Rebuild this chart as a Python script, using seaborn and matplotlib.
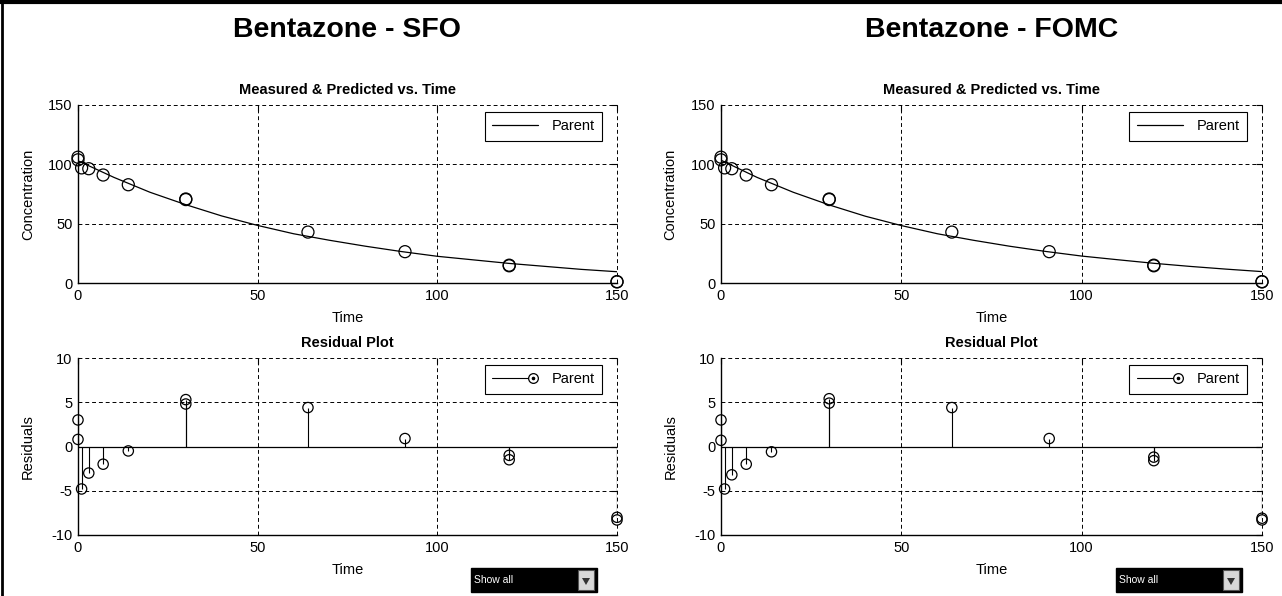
import matplotlib
matplotlib.use("Agg")
import matplotlib.pyplot as plt
import seaborn as sns
from matplotlib.lines import Line2D
from matplotlib.patches import Rectangle, Polygon
from matplotlib.legend_handler import HandlerBase

# ---- measured parent residues (days after application) ----
time_obs = [0, 0, 1, 3, 7, 14, 30, 30, 64, 91, 120, 120, 150, 150]
conc_obs = [106.0, 103.8, 97.0, 96.3, 91.0, 82.8, 70.8, 70.3, 42.9, 26.4, 15.0, 14.5, 1.2, 0.9]

# ---- fitted model curves ----
time_fit = [0, 10, 20, 30, 40, 50, 60, 70, 80, 90, 100, 110, 120, 130, 140, 150]
sfo_fit = [103.0, 89.0, 76.5, 66.0, 56.5, 48.5, 41.5, 36.0, 31.0, 26.5, 22.5, 19.5, 16.5, 14.0, 11.5, 9.5]
fomc_fit = [103.5, 89.0, 76.5, 65.8, 56.3, 48.4, 41.5, 36.0, 31.0, 26.6, 22.7, 19.6, 16.6, 14.0, 11.7, 9.6]

# ---- residuals (measured - predicted) ----
res_sfo = [3.0, 0.8, -4.8, -3.0, -2.0, -0.5, 5.3, 4.8, 4.4, 0.9, -1.0, -1.5, -8.0, -8.3]
res_fomc = [3.0, 0.7, -4.8, -3.2, -2.0, -0.6, 5.4, 4.9, 4.4, 0.9, -1.2, -1.6, -8.1, -8.3]

model_titles = ["Bentazone - SFO", "Bentazone - FOMC"]
x_ticks = [0, 50, 100, 150]
conc_ticks = [0, 50, 100, 150]
res_ticks = [-10, -5, 0, 5, 10]
series_name = "Parent"

sns.set_theme(style="white")
plt.rcParams["font.family"] = ["Liberation Sans", "DejaVu Sans"]
plt.rcParams["axes.unicode_minus"] = False
for key in ("text.color", "axes.labelcolor", "xtick.color", "ytick.color"):
    plt.rcParams[key] = "black"

fig = plt.figure(figsize=(12.82, 5.96), dpi=100)
W, H = 1282, 596


def px_axes(x0, x1, y_top, y_bot):
    return fig.add_axes([x0 / W, 1 - y_bot / H, (x1 - x0) / W, (y_bot - y_top) / H])


class HandlerStem(HandlerBase):
    """Stem legend entry: a line ending in a dotted open circle."""

    def create_artists(self, legend, orig_handle, xdescent, ydescent, width,
                       height, fontsize, trans):
        y = height / 2 - ydescent
        xe = width - xdescent - 4
        line = Line2D([-xdescent, xe], [y, y], color="black", linewidth=0.8)
        ring = Line2D([xe], [y], marker="o", markersize=7,
                      markerfacecolor="white", markeredgecolor="black",
                      markeredgewidth=0.9, linestyle="none")
        dot = Line2D([xe], [y], marker="o", markersize=1.6,
                     markerfacecolor="black", markeredgecolor="black",
                     linestyle="none")
        for a in (line, ring, dot):
            a.set_transform(trans)
        return [line, ring, dot]


def style_axes(ax, yticks, ylim):
    ax.set_xlim(0, 150)
    ax.set_ylim(*ylim)
    ax.set_xticks(x_ticks)
    ax.set_yticks(yticks)
    ax.set_facecolor("white")
    ax.grid(True, color="black", linestyle=(0, (4, 3)), linewidth=0.7)
    for gl in ax.get_xgridlines() + ax.get_ygridlines():
        gl.set_clip_on(False)
    ax.tick_params(direction="in", length=4, width=0.8, top=True, right=True,
                   labelsize=10.5, pad=4, colors="black")
    for side in ("left", "bottom"):
        ax.spines[side].set_color("black")
        ax.spines[side].set_linewidth(1.0)
    for side in ("top", "right"):
        ax.spines[side].set_visible(False)


def add_legend(ax, handle, handler_map=None):
    w_px = ax.bbox.width
    h_px = ax.bbox.height
    leg = ax.legend([handle], [series_name], loc="upper right",
                    bbox_to_anchor=(1 - 15 / w_px, 1 - 7 / h_px),
                    borderaxespad=0, frameon=True, fancybox=False,
                    edgecolor="black", framealpha=1, fontsize=10.5,
                    handlelength=3.2, handletextpad=0.9, borderpad=0.5,
                    handler_map=handler_map)
    leg.get_frame().set_linewidth(0.8)
    return leg


x_ranges = [(78, 617), (721, 1262)]
fits = [sfo_fit, fomc_fit]
residuals = [res_sfo, res_fomc]

for (x0, x1), title, fit, res in zip(x_ranges, model_titles, fits, residuals):
    # ---- measured & predicted ----
    ax = px_axes(x0, x1, 105, 283)
    style_axes(ax, conc_ticks, (0, 150))
    sns.lineplot(x=time_fit, y=fit, ax=ax, color="black", linewidth=0.9,
                 estimator=None, sort=False)
    sns.scatterplot(x=time_obs, y=conc_obs, ax=ax, s=75, marker="o", zorder=3,
                    clip_on=False)
    pts = ax.collections[-1]
    pts.set_facecolor("none")
    pts.set_edgecolor("black")
    pts.set_linewidth(0.9)
    ax.set_title("Measured & Predicted vs. Time", fontsize=10.5,
                 fontweight="bold", pad=8)
    ax.set_xlabel("Time", fontsize=10.5, labelpad=6)
    ax.set_ylabel("Concentration", fontsize=10.5)
    ax.yaxis.set_label_coords(-0.08, 0.5)
    add_legend(ax, Line2D([], [], color="black", linewidth=0.9))

    fig.text(((x0 + x1) / 2) / W, 1 - 30 / H, title, ha="center", va="center",
             fontsize=20.5, fontweight="bold")

    # ---- residuals ----
    axr = px_axes(x0, x1, 358, 535)
    style_axes(axr, res_ticks, (-10, 10))
    axr.axhline(0, color="black", linewidth=0.9, zorder=2)
    axr.vlines(time_obs, 0, res, color="black", linewidth=0.8, zorder=2)
    sns.scatterplot(x=time_obs, y=res, ax=axr, s=55, marker="o", zorder=3,
                    clip_on=False)
    rp = axr.collections[-1]
    rp.set_facecolor("none")
    rp.set_edgecolor("black")
    rp.set_linewidth(0.9)
    axr.set_title("Residual Plot", fontsize=10.5, fontweight="bold", pad=8)
    axr.set_xlabel("Time", fontsize=10.5, labelpad=6)
    axr.set_ylabel("Residuals", fontsize=10.5)
    axr.yaxis.set_label_coords(-0.08, 0.5)
    stem_handle = Line2D([], [], color="black")
    add_legend(axr, stem_handle, handler_map={stem_handle: HandlerStem()})

    # ---- "Show all" selector ----
    bx0, bx1 = x1 - 146, x1 - 20
    fig.add_artist(Rectangle((bx0 / W, 1 - 592 / H), (bx1 - bx0) / W, 24 / H,
                             transform=fig.transFigure, facecolor="black",
                             edgecolor="black"))
    fig.text((bx0 + 3) / W, 1 - 580 / H, "Show all", color="white",
             fontsize=7.5, ha="left", va="center")
    fig.add_artist(Rectangle(((bx1 - 19) / W, 1 - 590 / H), 16 / W, 20 / H,
                             transform=fig.transFigure, facecolor="#d8d8d8",
                             edgecolor="#555555", linewidth=0.8))
    cx = (bx1 - 11) / W
    fig.add_artist(Polygon([[cx - 4 / W, 1 - 578 / H], [cx + 4 / W, 1 - 578 / H],
                            [cx, 1 - 585 / H]], closed=True,
                           transform=fig.transFigure, facecolor="#333333",
                           edgecolor="none"))

# page frame lines along the top and left edges
fig.add_artist(Line2D([0, 1], [1 - 2 / H, 1 - 2 / H], transform=fig.transFigure,
                      color="black", linewidth=3))
fig.add_artist(Line2D([2 / W, 2 / W], [0, 1], transform=fig.transFigure,
                      color="black", linewidth=2))

fig.savefig("out.png", dpi=100, facecolor="white")
